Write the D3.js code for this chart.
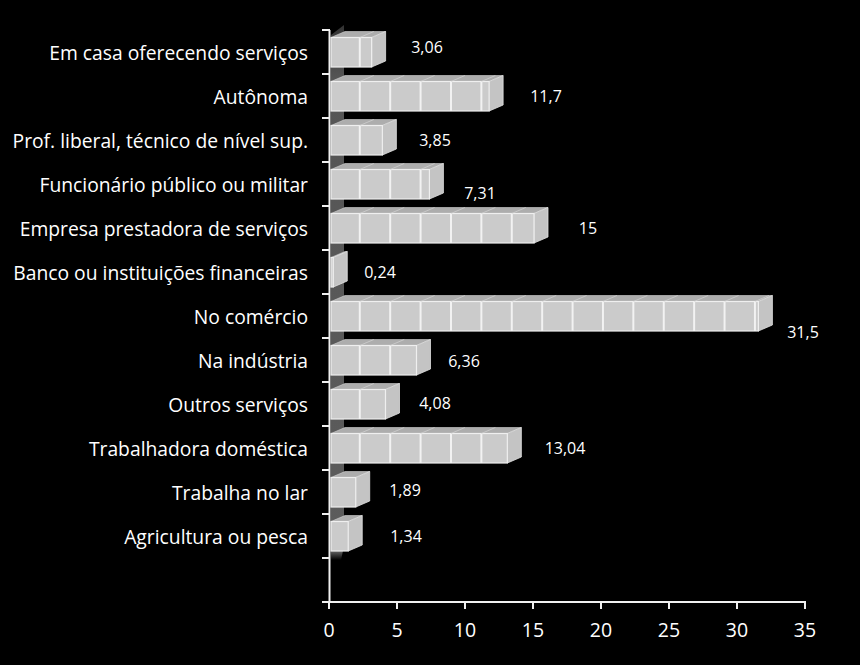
<!DOCTYPE html>
<html><head><meta charset="utf-8">
<style>html,body{margin:0;background:#000}svg{display:block}text{font-family:"Open Sans",sans-serif;fill:#fff}</style>
<script src="https://cdn.jsdelivr.net/npm/d3@7"></script></head>
<body><script>
const categories=["Em casa oferecendo serviços","Autônoma","Prof. liberal, técnico de nível sup.","Funcionário público ou militar","Empresa prestadora de serviços","Banco ou instituições financeiras","No comércio","Na indústria","Outros serviços","Trabalhadora doméstica","Trabalha no lar","Agricultura ou pesca",""];
const values=[3.06,11.7,3.85,7.31,15,0.24,31.5,6.36,4.08,13.04,1.89,1.34,null];
const valueLabels=["3,06","11,7","3,85","7,31","15","0,24","31,5","6,36","4,08","13,04","1,89","1,34",""];
const labelCenterX=[427,546,435,480,588,380,803,464,435,565,405,406,0];
const labelBaseY=[53,102,146,199,234,278,338,367,409,454,496,542,0];
const xTicks=[0,5,10,15,20,25,30,35];
const tileStep=2.235;
const W=860,H=665;
const svg=d3.select("body").append("svg").attr("width",W).attr("height",H);
const x=d3.scaleLinear().domain([0,35]).range([329,805]);
const y=d3.scaleBand().domain(d3.range(categories.length)).range([30,602]);
const dx=14,dy=6,inner=7.5;
const defs=svg.append("defs");
const g=defs.append("linearGradient").attr("id","wall").attr("gradientUnits","userSpaceOnUse").attr("x1",0).attr("x2",0).attr("y1",25).attr("y2",560);
g.append("stop").attr("offset","0").attr("stop-color","#333");
g.append("stop").attr("offset","0.1").attr("stop-color","#555");
g.append("stop").attr("offset","0.97").attr("stop-color","#5c5c5c");
g.append("stop").attr("offset","0.983").attr("stop-color","#666");
g.append("stop").attr("offset","1").attr("stop-color","#000");
const x0=331;
svg.append("path").attr("fill","url(#wall)")
 .attr("d",`M${x0},${y(0)+5}L${x0+dx-1},${y(0)-5}V546L${x0+dx-4},560H${x0}Z`);
categories.forEach((c,i)=>{
 const v=values[i];
 if(v===null)return;
 const t=y(i)+inner,h=y.bandwidth()-2*inner+0.5,b=t+h,xe=x(v)+1;
 const G=svg.append("g");
 G.append("path").attr("d",`M${x0},${t}L${x0+dx},${t-dy}H${xe+dx}L${xe},${t}Z`).attr("fill","#adadad").attr("stroke","#d4d4d4").attr("stroke-width",.6);
 G.append("path").attr("d",`M${xe},${t}L${xe+dx},${t-dy}V${b-dy}L${xe},${b}Z`).attr("fill","#c4c4c4").attr("stroke","#e2e2e2").attr("stroke-width",.8);
 G.append("rect").attr("x",x0).attr("y",t).attr("width",xe-x0).attr("height",h).attr("fill","#cbcbcb").attr("stroke","#efefef").attr("stroke-width",1.2);
 d3.range(tileStep,v,tileStep).forEach(s=>{
  const sx=x(s)+0.4;
  if(sx>=xe-1)return;
  G.append("line").attr("x1",sx).attr("x2",sx).attr("y1",t).attr("y2",b).attr("stroke","#f2f2f2").attr("stroke-width",2);
  G.append("line").attr("x1",sx).attr("x2",sx+dx).attr("y1",t).attr("y2",t-dy).attr("stroke","#d4d4d4").attr("stroke-width",.7);
 });
 svg.append("text").attr("x",labelCenterX[i]).attr("y",labelBaseY[i]).attr("text-anchor","middle").attr("font-size",16).text(valueLabels[i]);
 svg.append("text").attr("x",308).attr("y",y(i)+y.bandwidth()/2+7.5).attr("text-anchor","end").attr("font-size",19.3).text(c);
});
const ax=svg.append("g").attr("stroke","#f0f0f0").attr("stroke-width",2).attr("fill","none");
ax.append("line").attr("x1",329.5).attr("x2",329.5).attr("y1",30).attr("y2",603);
ax.append("line").attr("x1",329).attr("x2",806).attr("y1",602).attr("y2",602);
d3.range(0,categories.length+1).forEach(i=>{const yy=30+i*y.bandwidth();ax.append("line").attr("x1",322).attr("x2",330).attr("y1",yy).attr("y2",yy);});
xTicks.forEach(t=>{ax.append("line").attr("x1",x(t)).attr("x2",x(t)).attr("y1",602).attr("y2",609);
 svg.append("text").attr("x",x(t)).attr("y",637).attr("text-anchor","middle").attr("font-size",19.5).text(t);});
</script></body></html>
